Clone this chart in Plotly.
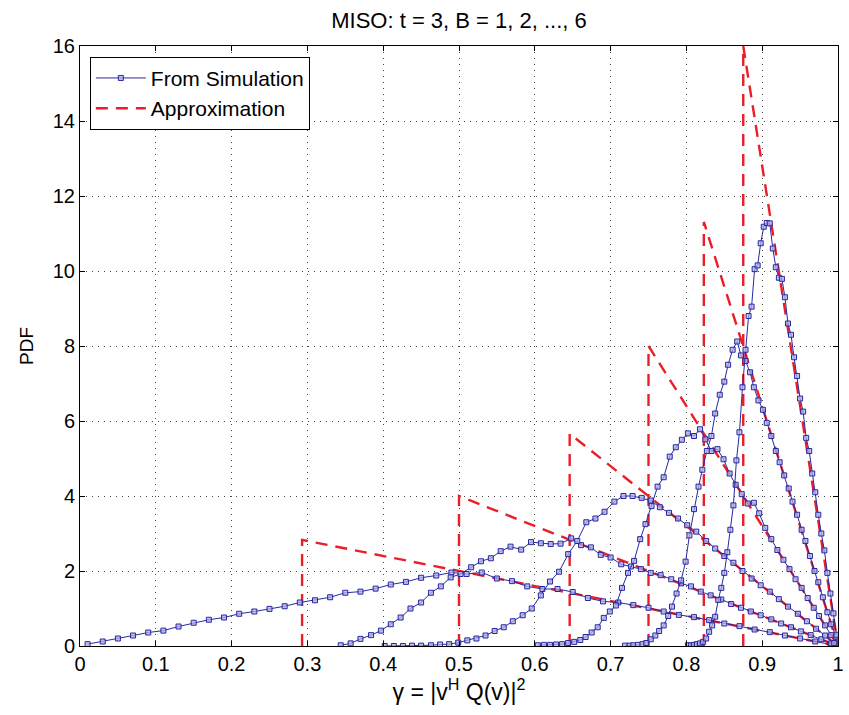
import plotly.graph_objects as go

# ---- simulation data ----
x_b1 = [0.01, 0.03, 0.05, 0.07, 0.09, 0.11, 0.13, 0.15, 0.17, 0.19,
        0.21, 0.23, 0.25, 0.27, 0.29, 0.31, 0.33, 0.35, 0.37, 0.39,
        0.41, 0.43, 0.45, 0.47, 0.49, 0.51, 0.53, 0.55, 0.57, 0.59,
        0.61, 0.63, 0.65, 0.67, 0.69, 0.71, 0.73, 0.75, 0.77, 0.79,
        0.81, 0.83, 0.85, 0.87, 0.89, 0.91, 0.93, 0.95, 0.97, 0.99]
y_b1 = [0.05, 0.12, 0.20, 0.28, 0.36, 0.41, 0.52, 0.62, 0.70, 0.76,
        0.86, 0.92, 0.99, 1.06, 1.16, 1.22, 1.30, 1.42, 1.45, 1.53,
        1.64, 1.71, 1.82, 1.88, 1.96, 1.92, 1.96, 1.80, 1.73, 1.59,
        1.52, 1.52, 1.44, 1.28, 1.19, 1.16, 1.09, 1.02, 0.92, 0.83,
        0.77, 0.69, 0.60, 0.53, 0.44, 0.37, 0.28, 0.20, 0.12, 0.04]

x_b2 = [0.344, 0.357, 0.370, 0.384, 0.397, 0.410, 0.423, 0.436, 0.450, 0.463,
        0.476, 0.489, 0.502, 0.516, 0.529, 0.542, 0.555, 0.568, 0.582, 0.595,
        0.608, 0.621, 0.634, 0.648, 0.661, 0.674, 0.687, 0.700, 0.714, 0.727,
        0.740, 0.753, 0.766, 0.780, 0.793, 0.806, 0.819, 0.832, 0.846, 0.859,
        0.872, 0.885, 0.898, 0.912, 0.925, 0.938, 0.951, 0.964, 0.978, 0.991]
y_b2 = [0.02, 0.07, 0.19, 0.29, 0.41, 0.58, 0.76, 1.00, 1.16, 1.42,
        1.59, 1.83, 1.92, 2.10, 2.26, 2.34, 2.53, 2.65, 2.57, 2.77,
        2.74, 2.72, 2.73, 2.87, 2.69, 2.63, 2.43, 2.36, 2.18, 2.12,
        2.05, 1.95, 1.89, 1.78, 1.67, 1.59, 1.45, 1.35, 1.24, 1.12,
        1.02, 0.92, 0.82, 0.71, 0.60, 0.50, 0.39, 0.29, 0.18, 0.07]

x_b3 = [0.402, 0.414, 0.426, 0.438, 0.450, 0.463, 0.475, 0.487, 0.499, 0.511,
        0.523, 0.535, 0.547, 0.559, 0.571, 0.584, 0.596, 0.608, 0.620, 0.632,
        0.644, 0.656, 0.668, 0.680, 0.692, 0.705, 0.717, 0.729, 0.741, 0.753,
        0.765, 0.777, 0.789, 0.801, 0.813, 0.826, 0.838, 0.850, 0.862, 0.874,
        0.886, 0.898, 0.910, 0.922, 0.934, 0.947, 0.959, 0.971, 0.983, 0.995]
y_b3 = [0.00, 0.00, 0.00, 0.01, 0.01, 0.02, 0.04, 0.05, 0.09, 0.15,
        0.20, 0.28, 0.40, 0.50, 0.66, 0.82, 1.00, 1.35, 1.72, 1.98,
        2.45, 2.80, 3.30, 3.40, 3.58, 3.85, 4.00, 4.00, 3.95, 3.88,
        3.70, 3.55, 3.40, 3.22, 3.05, 2.80, 2.60, 2.40, 2.22, 2.00,
        1.80, 1.62, 1.45, 1.25, 1.05, 0.86, 0.66, 0.46, 0.28, 0.08]

x_b4 = [0.604, 0.612, 0.620, 0.628, 0.636, 0.644, 0.652, 0.660, 0.667, 0.675,
        0.683, 0.691, 0.699, 0.707, 0.715, 0.723, 0.731, 0.739, 0.746, 0.754,
        0.762, 0.770, 0.778, 0.786, 0.794, 0.802, 0.810, 0.818, 0.825, 0.833,
        0.841, 0.849, 0.857, 0.865, 0.873, 0.881, 0.889, 0.896, 0.904, 0.912,
        0.920, 0.928, 0.936, 0.944, 0.952, 0.960, 0.968, 0.975, 0.983, 0.991]
y_b4 = [0.02, 0.03, 0.03, 0.04, 0.05, 0.08, 0.11, 0.16, 0.24, 0.36,
        0.50, 0.75, 0.92, 1.08, 1.55, 1.95, 2.27, 2.85, 3.25, 3.73,
        4.25, 4.50, 5.05, 5.30, 5.50, 5.67, 5.60, 5.78, 5.51, 5.20,
        5.25, 4.98, 4.60, 4.30, 4.05, 3.80, 3.82, 3.54, 3.15, 2.85,
        2.56, 2.30, 2.05, 1.78, 1.55, 1.28, 1.02, 0.80, 0.55, 0.29]

x_b5 = [0.719, 0.725, 0.730, 0.736, 0.742, 0.747, 0.753, 0.759, 0.764, 0.770,
        0.776, 0.781, 0.787, 0.793, 0.799, 0.804, 0.810, 0.816, 0.821, 0.827,
        0.833, 0.838, 0.844, 0.850, 0.855, 0.861, 0.867, 0.872, 0.878, 0.884,
        0.889, 0.895, 0.901, 0.906, 0.912, 0.918, 0.923, 0.929, 0.935, 0.940,
        0.946, 0.952, 0.957, 0.963, 0.969, 0.974, 0.980, 0.986, 0.991, 0.997]
y_b5 = [0.01, 0.01, 0.02, 0.03, 0.05, 0.08, 0.18, 0.28, 0.40, 0.55,
        0.80, 1.05, 1.40, 1.75, 2.25, 2.95, 3.65, 4.25, 4.70, 5.20,
        5.60, 6.20, 6.70, 7.05, 7.50, 7.90, 8.12, 7.75, 7.60, 7.30,
        6.90, 6.55, 6.30, 5.95, 5.60, 5.20, 4.90, 4.55, 4.20, 3.85,
        3.50, 3.10, 2.80, 2.40, 2.00, 1.70, 1.30, 0.90, 0.58, 0.25]

x_b6 = [0.802, 0.806, 0.810, 0.814, 0.818, 0.822, 0.826, 0.830, 0.834, 0.838,
        0.842, 0.846, 0.850, 0.854, 0.858, 0.862, 0.866, 0.870, 0.874, 0.878,
        0.882, 0.886, 0.890, 0.894, 0.898, 0.902, 0.906, 0.910, 0.914, 0.918,
        0.922, 0.926, 0.930, 0.934, 0.938, 0.942, 0.946, 0.950, 0.954, 0.958,
        0.962, 0.966, 0.970, 0.974, 0.978, 0.982, 0.986, 0.990, 0.994, 0.998]
y_b6 = [0.02, 0.02, 0.03, 0.05, 0.07, 0.11, 0.20, 0.38, 0.55, 0.78,
        1.23, 1.55, 1.95, 2.50, 3.10, 3.75, 4.95, 5.70, 6.90, 7.90,
        8.80, 9.05, 10.05, 10.15, 10.74, 11.18, 11.28, 11.27, 10.60, 10.10,
        9.82, 9.79, 9.30, 8.60, 8.30, 7.70, 7.20, 6.60, 6.25, 5.55,
        5.20, 4.60, 4.10, 3.50, 3.00, 2.55, 1.95, 1.40, 0.87, 0.30]

# ---- approximation: start point and peak value for each B ----
approx_start = [0.293, 0.500, 0.646, 0.750, 0.823, 0.875]
approx_peak = [2.83, 4.00, 5.66, 8.00, 11.31, 16.00]
approx_end = 1.0

x_ticks = [0, 0.1, 0.2, 0.3, 0.4, 0.5, 0.6, 0.7, 0.8, 0.9, 1]
x_tick_labels = ["0", "0.1", "0.2", "0.3", "0.4", "0.5", "0.6", "0.7", "0.8", "0.9", "1"]
y_ticks = [0, 2, 4, 6, 8, 10, 12, 14, 16]

sim_x = [x_b1, x_b2, x_b3, x_b4, x_b5, x_b6]
sim_y = [y_b1, y_b2, y_b3, y_b4, y_b5, y_b6]

SIM_COLOR = "rgb(40,40,165)"
APPROX_COLOR = "rgb(235,30,40)"

fig = go.Figure()

for i, (x0, pk) in enumerate(zip(approx_start, approx_peak)):
    fig.add_trace(go.Scatter(
        x=[x0, x0, approx_end], y=[0, pk, 0],
        mode="lines",
        line=dict(color=APPROX_COLOR, width=2.4, dash="12px,8px"),
        name="Approximation", legendgroup="approx",
        showlegend=(i == 0), legendrank=2,
    ))

for i, (xs, ys) in enumerate(zip(sim_x, sim_y)):
    fig.add_trace(go.Scatter(
        x=xs, y=ys,
        mode="lines+markers",
        line=dict(color=SIM_COLOR, width=1),
        marker=dict(symbol="square", size=5, color="rgba(175,175,225,0.75)",
                    line=dict(color=SIM_COLOR, width=1)),
        name="From Simulation", legendgroup="sim",
        showlegend=(i == 0), legendrank=1,
    ))

FONT = "Liberation Sans, Arial, sans-serif"

axis_common = dict(
    showline=True, linecolor="black", linewidth=1, mirror="ticks",
    ticks="inside", ticklen=5, tickcolor="black", tickwidth=1,
    showgrid=True, gridcolor="rgb(70,70,70)", gridwidth=1, griddash="1px,5px",
    zeroline=False, automargin=False,
    tickfont=dict(family=FONT, size=20, color="black"),
)

fig.update_layout(
    width=849, height=715,
    margin=dict(l=80, r=11, t=46, b=69),
    paper_bgcolor="white", plot_bgcolor="white",
    font=dict(family=FONT, size=20, color="black"),
    title=dict(text="MISO: t = 3, B = 1, 2, ..., 6", x=0.5, xref="paper",
               xanchor="center", y=0.972, yanchor="middle",
               font=dict(family=FONT, size=22, color="black")),
    xaxis=dict(range=[0, 1], tickvals=x_ticks, ticktext=x_tick_labels,
               title=dict(text="γ = |v<sup>H</sup> Q(v)|<sup>2</sup>",
                          font=dict(family=FONT, size=23), standoff=8),
               **axis_common),
    yaxis=dict(range=[0, 16], tickvals=y_ticks,
               title=dict(text="PDF", font=dict(family=FONT, size=19), standoff=14),
               **axis_common),
    legend=dict(x=0.013, y=0.982, xanchor="left", yanchor="top",
                bgcolor="white", bordercolor="black", borderwidth=1,
                font=dict(family=FONT, size=21, color="black"),
                tracegroupgap=0, itemwidth=50),
    showlegend=True,
)

fig.write_html("out.html")
